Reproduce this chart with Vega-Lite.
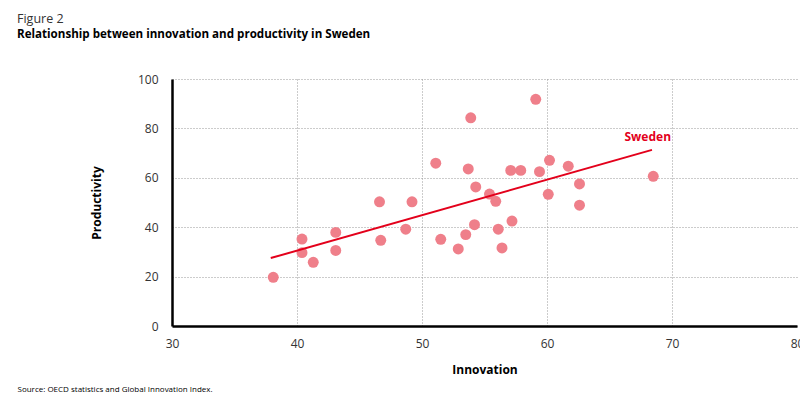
{
  "$schema": "https://vega.github.io/schema/vega-lite/v6.json",
  "width": 625,
  "height": 247,
  "autosize": "none",
  "padding": {"left": 172, "top": 79, "right": 3, "bottom": 75},
  "background": "white",
  "config": {
    "font": "Open Sans",
    "view": {"stroke": null},
    "axis": {"labelFont": "Open Sans", "titleFont": "Open Sans"}
  },
  "title": {
    "text": "Figure 2",
    "subtitle": "Relationship between innovation and productivity in Sweden",
    "anchor": "start",
    "frame": "group",
    "dx": -155,
    "offset": 32,
    "fontSize": 12.5,
    "fontWeight": "normal",
    "color": "#333333",
    "subtitleFontSize": 11.6,
    "subtitleFontWeight": "bold",
    "subtitleColor": "#000000",
    "subtitlePadding": 4,
    "font": "Open Sans",
    "subtitleFont": "Open Sans"
  },
  "datasets": {
    "countries": [
      {"innovation": 38.1, "productivity": 19.7},
      {"innovation": 40.4, "productivity": 35.2},
      {"innovation": 40.4, "productivity": 29.7},
      {"innovation": 41.3, "productivity": 25.8},
      {"innovation": 43.1, "productivity": 37.9},
      {"innovation": 43.1, "productivity": 30.6},
      {"innovation": 46.6, "productivity": 50.3},
      {"innovation": 46.7, "productivity": 34.7},
      {"innovation": 48.7, "productivity": 39.2},
      {"innovation": 49.2, "productivity": 50.3},
      {"innovation": 51.1, "productivity": 65.9},
      {"innovation": 51.5, "productivity": 35.1},
      {"innovation": 52.9, "productivity": 31.2},
      {"innovation": 53.5, "productivity": 37.0},
      {"innovation": 53.7, "productivity": 63.6},
      {"innovation": 53.9, "productivity": 84.3},
      {"innovation": 54.3, "productivity": 56.3},
      {"innovation": 54.2, "productivity": 41.0},
      {"innovation": 55.4, "productivity": 53.4},
      {"innovation": 55.9, "productivity": 50.5},
      {"innovation": 56.1, "productivity": 39.2},
      {"innovation": 56.4, "productivity": 31.6},
      {"innovation": 57.2, "productivity": 42.5},
      {"innovation": 57.1, "productivity": 63.0},
      {"innovation": 57.9, "productivity": 63.0},
      {"innovation": 59.1, "productivity": 91.8},
      {"innovation": 59.4, "productivity": 62.5},
      {"innovation": 60.2, "productivity": 67.1},
      {"innovation": 60.1, "productivity": 53.3},
      {"innovation": 61.7, "productivity": 64.7},
      {"innovation": 62.6, "productivity": 57.5},
      {"innovation": 62.6, "productivity": 48.9},
      {"innovation": 68.5, "productivity": 60.6}
    ],
    "trend": [
      {"innovation": 37.9, "productivity": 27.5},
      {"innovation": 68.4, "productivity": 71.3}
    ],
    "label": [
      {"innovation": 68.06, "productivity": 76.5, "text": "Sweden"}
    ]
  },
  "resolve": {"axis": {"x": "independent"}},
  "layer": [
    {
      "data": {"name": "countries"},
      "mark": {"type": "circle", "size": 120, "color": "#ef7f8a", "opacity": 1},
      "encoding": {
        "x": {
          "field": "innovation",
          "type": "quantitative",
          "scale": {"domain": [30, 80], "nice": false, "zero": false},
          "axis": {
            "title": "Innovation",
            "values": [30, 40, 50, 60, 70, 80],
            "orient": "bottom",
            "domainColor": "#000000",
            "domainWidth": 2.5,
            "ticks": false,
            "labelPadding": 12,
            "labelFontSize": 12,
            "labelColor": "#333333",
            "labelFlush": false,
            "titleFontSize": 12,
            "titleFontWeight": "bold",
            "titleColor": "#000000",
            "titlePadding": 15,
            "grid": true,
            "gridColor": "#999999",
            "gridDash": [1, 2],
            "gridWidth": 1,
            "gridOpacity": {"condition": {"test": "datum.value <= 30 || datum.value >= 80", "value": 0}, "value": 1}
          }
        },
        "y": {
          "field": "productivity",
          "type": "quantitative",
          "scale": {"domain": [0, 100], "nice": false},
          "axis": {
            "title": "Productivity",
            "values": [0, 20, 40, 60, 80, 100],
            "domainColor": "#000000",
            "domainWidth": 2.5,
            "ticks": false,
            "labelPadding": 14,
            "labelFontSize": 12,
            "labelColor": "#333333",
            "labelFlush": false,
            "titleFontSize": 12,
            "titleFontWeight": "bold",
            "titleColor": "#000000",
            "titlePadding": 34,
            "grid": true,
            "gridColor": "#999999",
            "gridDash": [1, 2],
            "gridWidth": 1
          }
        }
      }
    },
    {
      "data": {"name": "trend"},
      "mark": {"type": "line", "color": "#e3001b", "strokeWidth": 2},
      "encoding": {
        "x": {"field": "innovation", "type": "quantitative", "scale": {"domain": [30, 80], "nice": false, "zero": false}, "axis": null},
        "y": {"field": "productivity", "type": "quantitative", "scale": {"domain": [0, 100], "nice": false}}
      }
    },
    {
      "data": {"name": "label"},
      "mark": {"type": "text", "color": "#e3001b", "fontWeight": "bold", "fontSize": 12, "font": "Open Sans", "align": "center", "baseline": "middle"},
      "encoding": {
        "x": {
          "field": "innovation",
          "type": "quantitative",
          "scale": {"domain": [30, 80], "nice": false, "zero": false},
          "axis": {
            "orient": "bottom",
            "title": "Source: OECD statistics and Global Innovation Index.",
            "labels": false,
            "ticks": false,
            "domain": false,
            "grid": false,
            "titleFontSize": 8,
            "titleFontWeight": "normal",
            "titleColor": "#000000",
            "titleAnchor": "start",
            "titleAlign": "left",
            "titleBaseline": "middle",
            "titleX": -155,
            "titleY": 63
          }
        },
        "y": {"field": "productivity", "type": "quantitative", "scale": {"domain": [0, 100], "nice": false}},
        "text": {"field": "text"}
      }
    }
  ]
}
